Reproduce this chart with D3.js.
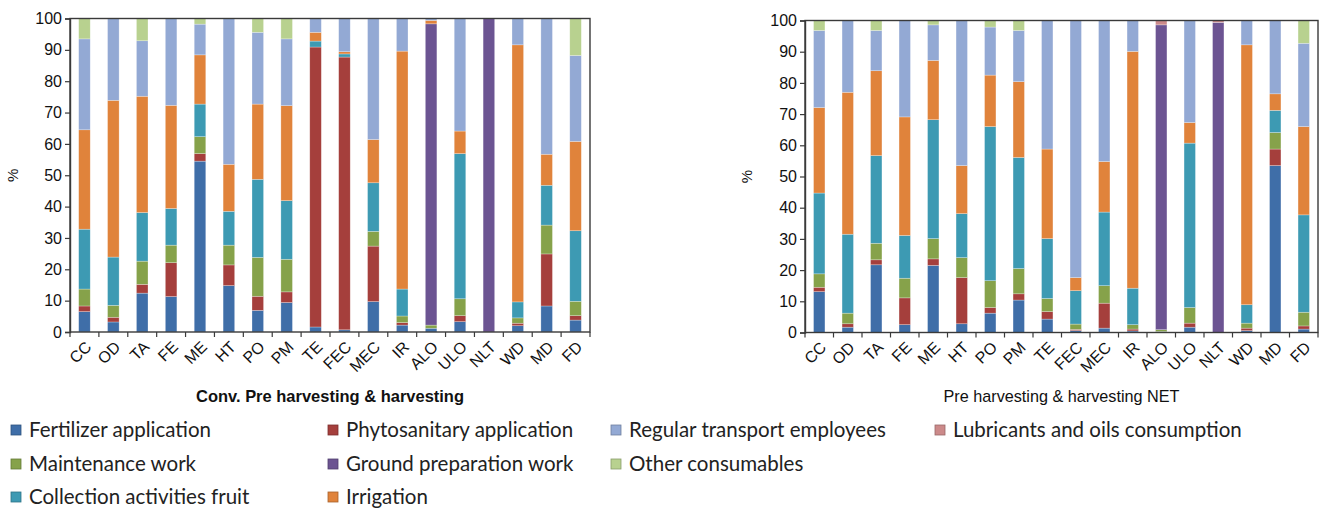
<!DOCTYPE html>
<html><head><meta charset="utf-8">
<script src="https://cdn.jsdelivr.net/npm/d3@7"></script>
<style>body{margin:0;background:#fff}svg{display:block}</style>
</head><body>
<svg id="c" width="1322" height="509"></svg>
<script>
const categories = ["CC","OD","TA","FE","ME","HT","PO","PM","TE","FEC","MEC","IR","ALO","ULO","NLT","WD","MD","FD"];
const yTicks = [0,10,20,30,40,50,60,70,80,90,100];
const seriesNames = ["Fertilizer application","Phytosanitary application","Maintenance work","Ground preparation work","Collection activities fruit","Irrigation","Lubricants and oils consumption","Regular transport employees","Other consumables"];
const seriesColors = ["#3f6ea8","#a53f3c","#86a24a","#6c5492","#3d9ab3","#e0833b","#cc8a8a","#93a9d4","#b8d18f"];
const legendOrder = ["Fertilizer application","Phytosanitary application","Regular transport employees","Lubricants and oils consumption","Maintenance work","Ground preparation work","Other consumables","Collection activities fruit","Irrigation"];

// Conv. Pre harvesting & harvesting
const convFertilizer  = [6.5,3.2,12.4,11.3,54.5,14.8,6.9,9.4,1.6,0.7,9.7,2.2,1.2,3.3,0,2.0,8.3,3.8];
const convPhyto       = [1.8,1.5,2.8,10.8,2.4,6.6,4.5,3.4,89.3,87.0,17.7,0.8,0,1.9,0,0.8,16.6,1.4];
const convMaintenance = [5.4,3.8,7.4,5.6,5.4,6.3,12.4,10.4,0,0,4.7,2.1,1.0,5.4,0,1.7,9.2,4.6];
const convGround      = [0,0,0,0,0,0,0,0,0,0,0,0,96.1,0,100,0,0,0];
const convCollection  = [19.1,15.4,15.5,11.7,10.4,10.8,24.9,18.7,1.9,1.0,15.5,8.6,0,46.3,0,5.1,12.7,22.5];
const convIrrigation  = [31.7,50.0,37.1,32.9,15.7,15.0,24.0,30.3,2.8,0.7,13.8,75.9,1.1,7.2,0,82.0,9.9,28.5];
const convLubricants  = [0,0,0,0,0,0,0,0,0,0,0,0,0,0,0,0,0,0];
const convRegular     = [29.0,26.1,17.7,27.7,9.8,46.5,22.9,21.3,4.4,10.6,38.6,10.4,0.6,35.9,0,8.4,43.3,27.4];
const convOther       = [6.5,0,7.1,0,1.8,0,4.4,6.5,0,0,0,0,0,0,0,0,0,11.8];

// Pre harvesting & harvesting NET
const netFertilizer  = [13.1,1.7,21.7,2.5,21.5,2.8,6.2,10.4,4.3,0.6,1.4,0.5,0.3,1.7,0,0.6,53.5,1.1];
const netPhyto       = [1.4,1.1,1.6,8.6,2.1,14.8,1.8,2.0,2.4,0.4,8.0,0.6,0,1.3,0,0.8,5.3,1.0];
const netMaintenance = [4.3,3.4,5.3,6.3,6.5,6.4,8.6,8.1,4.2,1.7,5.6,1.4,0.6,5.0,0,1.6,5.3,4.4];
const netGround      = [0,0,0,0,0,0,0,0,0,0,0,0,97.7,0,99.4,0,0,0];
const netCollection  = [25.9,25.3,28.1,13.7,38.1,14.1,49.4,35.6,19.2,10.7,23.6,11.7,0,52.7,0,5.9,7.1,31.2];
const netIrrigation  = [27.4,45.5,27.2,38.0,19.0,15.4,16.5,24.3,28.7,4.2,16.2,75.9,0,6.6,0,83.3,5.3,28.3];
const netLubricants  = [0,0,0,0,0,0,0,0,0,0,0,0,1.4,0,0.6,0,0,0];
const netRegular     = [24.7,23.0,12.9,30.9,11.4,46.5,15.4,16.4,41.2,82.4,45.2,9.9,0,32.7,0,7.8,23.5,26.7];
const netOther       = [3.2,0,3.2,0,1.4,0,2.1,3.2,0,0,0,0,0,0,0,0,0,7.3];

const convSeries = [convFertilizer,convPhyto,convMaintenance,convGround,convCollection,convIrrigation,convLubricants,convRegular,convOther];
const netSeries  = [netFertilizer,netPhyto,netMaintenance,netGround,netCollection,netIrrigation,netLubricants,netRegular,netOther];

const svg = d3.select("#c");
const color = d3.scaleOrdinal().domain(seriesNames).range(seriesColors);

function buildRows(series){
  return categories.map((c,i)=>{
    const r={cat:c};
    seriesNames.forEach((s,k)=>r[s]=series[k][i]);
    return r;
  });
}

function drawChart(opt){
  const g = svg.append("g");
  const x = d3.scaleBand().domain(categories).range([opt.x0,opt.x1]).paddingInner(0.6).paddingOuter(0.3);
  const y = d3.scaleLinear().domain([0,100]).range([opt.yb,opt.yt]);
  const stack = d3.stack().keys(seriesNames)(buildRows(opt.series));
  g.selectAll("g.layer").data(stack).join("g").attr("class","layer")
    .attr("fill",d=>color(d.key))
    .selectAll("rect").data(d=>d).join("rect")
    .attr("x",d=>x(d.data.cat)).attr("width",x.bandwidth())
    .attr("y",d=>y(d[1])).attr("height",d=>Math.max(0,y(d[0])-y(d[1])))
    .attr("stroke","rgba(255,255,255,0.45)").attr("stroke-width",0.6);
  g.append("rect").attr("x",opt.x0).attr("y",opt.yt).attr("width",opt.x1-opt.x0).attr("height",opt.yb-opt.yt)
    .attr("fill","none").attr("stroke","#3a3a3a").attr("stroke-width",1.4);
  const ya = g.append("g").attr("transform",`translate(${opt.x0},0)`)
    .call(d3.axisLeft(y).tickValues(yTicks).tickSize(5).tickPadding(3));
  ya.select(".domain").attr("stroke","#3a3a3a").attr("stroke-width",1.4);
  ya.selectAll(".tick line").attr("stroke","#3a3a3a").attr("stroke-width",1.2);
  ya.selectAll("text").attr("font-family","'Liberation Sans',Arial,sans-serif").attr("font-size",16).attr("fill","#111");
  const step = x.step();
  const bounds = d3.range(categories.length+1).map(i=>opt.x0 + (i===0?0:(x(categories[i-1])+x.bandwidth()/2 + step/2 - opt.x0)));
  g.selectAll("line.xt").data(bounds).join("line").attr("class","xt")
    .attr("x1",d=>d).attr("x2",d=>d).attr("y1",opt.yb).attr("y2",opt.yb+5)
    .attr("stroke","#3a3a3a").attr("stroke-width",1.2);
  g.selectAll("text.xl").data(categories).join("text").attr("class","xl")
    .attr("transform",d=>`translate(${x(d)+x.bandwidth()/2+4},${opt.yb+12}) rotate(-45)`)
    .attr("text-anchor","end").attr("dy","0.35em")
    .attr("font-family","'Liberation Sans',Arial,sans-serif").attr("font-size",16).attr("fill","#111")
    .text(d=>d);
  g.append("text").attr("transform",`translate(${opt.ylabX},${(opt.yt+opt.yb)/2}) rotate(-90)`)
    .attr("text-anchor","middle").attr("font-family","'Liberation Sans',Arial,sans-serif").attr("font-size",15).attr("fill","#111").text("%");
  g.append("text").attr("x",(opt.x0+opt.x1)/2).attr("y",402).attr("text-anchor","middle")
    .attr("font-family","'Liberation Sans Narrow','Arial Narrow','Liberation Sans',sans-serif")
    .attr("font-size",17).attr("font-weight",opt.bold?"bold":"normal").attr("fill","#111")
    .attr("textLength",opt.titleLen).attr("lengthAdjust","spacingAndGlyphs")
    .text(opt.title);
}

drawChart({series:convSeries,x0:70,x1:590,yt:18.5,yb:332,ylabX:18,title:"Conv. Pre harvesting & harvesting",bold:true,titleLen:268});
drawChart({series:netSeries,x0:805,x1:1318,yt:20.5,yb:332.5,ylabX:752,title:"Pre harvesting & harvesting NET",bold:false,titleLen:236});

const legPos = {
  "Fertilizer application":[11,430],"Phytosanitary application":[328,430],"Regular transport employees":[611,430],"Lubricants and oils consumption":[935,430],
  "Maintenance work":[11,464],"Ground preparation work":[328,464],"Other consumables":[611,464],
  "Collection activities fruit":[11,497],"Irrigation":[328,497]
};
const lg = svg.append("g");
legendOrder.forEach(name=>{
  const [lx,ly]=legPos[name];
  lg.append("rect").attr("x",lx).attr("y",ly-5).attr("width",10).attr("height",10).attr("fill",color(name))
    .attr("stroke",d3.color(color(name)).darker(0.8)).attr("stroke-width",0.8);
  lg.append("text").attr("x",lx+18).attr("y",ly).attr("dy","0.35em")
    .attr("font-family","Lato,'Open Sans',sans-serif").attr("font-size",20.5).attr("fill","#222").text(name);
});
</script>
</body></html>
